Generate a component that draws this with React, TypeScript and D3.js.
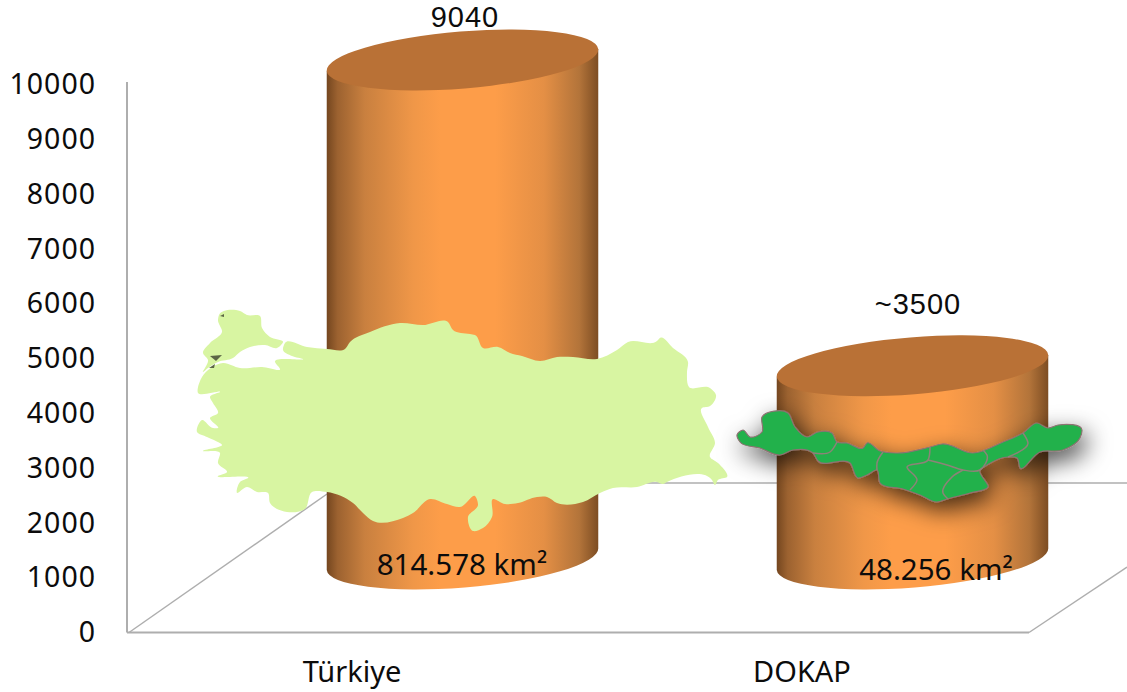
import React from "react";
import * as d3 from "d3";

const categories = ["Türkiye", "DOKAP"];
const values = [9040, 3500];
const valueLabels = ["9040", "~3500"];
const areaLabels = ["814.578 km²", "48.256 km²"];
const yTicks = [0, 1000, 2000, 3000, 4000, 5000, 6000, 7000, 8000, 9000, 10000];

type P = [number, number];
const turkeyAnatolia: P[] = [[285,343],[307,347],[327,349],[345,349],[350,342],[370,332],[400,323],[423,325],[448,322],[453,330],[470,334],[475,335],[483,348],[498,347],[510,353],[522,356],[540,361],[557,357],[573,357],[597,359],[617,350],[628,342],[657,341],[660,338],[673,348],[688,362],[687,372],[689,387],[710,388],[716,395],[710,406],[702,408],[708,427],[715,443],[710,457],[718,463],[727,477],[718,480],[715,485],[712,480],[667,482],[663,484],[657,482],[637,487],[613,488],[600,493],[583,502],[557,503],[547,497],[537,497],[518,503],[505,504],[493,499],[492,517],[483,528],[473,531],[468,517],[478,505],[475,496],[460,507],[447,504],[430,499],[413,513],[403,518],[373,521],[363,513],[353,503],[327,492],[312,492],[305,509],[287,512],[270,503],[268,493],[257,492],[247,487],[237,493],[240,482],[248,478],[218,476],[227,472],[218,463],[220,453],[203,451],[222,445],[207,437],[197,432],[202,420],[213,428],[218,428],[210,418],[218,413],[213,403],[210,397],[220,392],[198,393],[202,377],[223,363],[240,368],[262,367],[280,369],[275,362],[303,359],[292,356],[283,350]];
const turkeyThrace: P[] = [[218,320],[219,315],[240,311],[247,315],[260,316],[262,328],[270,337],[283,342],[277,348],[265,345],[250,347],[240,352],[233,358],[218,362],[208,368],[203,372],[208,360],[203,353],[210,343],[222,332]];
const turkeySpots: P[][] = [[[210,356],[222,355],[216,361]],[[209,368],[215,364],[214,368]],[[220,316],[224,314],[224,317]]];
const dokapOutline: P[] = [[737,435],[743,430],[750,437],[762,432],[762,417],[788,413],[795,427],[807,437],[818,432],[832,433],[837,442],[847,443],[863,448],[867,443],[880,451],[897,453],[930,447],[942,444],[973,453],[1003,442],[1023,433],[1037,423],[1048,428],[1058,425],[1082,430],[1080,438],[1063,450],[1040,452],[1020,468],[1017,458],[1008,457],[987,465],[980,470],[988,487],[970,493],[947,499],[937,502],[920,495],[903,489],[880,483],[877,470],[867,475],[858,478],[850,463],[818,461],[813,453],[793,450],[780,455],[760,448],[740,442]];
const dokapBorders: P[][] = [
  [[837,442],[830,452],[813,453]],
  [[883,452],[877,463],[877,470]],
  [[930,447],[928,460],[907,467],[917,480],[910,490]],
  [[928,460],[947,465],[963,470],[980,470],[987,455],[983,450]],
  [[963,470],[952,477],[943,493],[948,499]],
  [[1023,433],[1028,443],[1008,457]],
];

const W = 1127, H = 692;
const y = d3.scaleLinear().domain([0, 10000]).range([632, 84]);
const cylY = d3.scaleLinear().domain([0, 10000]).range([559, 7]);
const x = d3.scalePoint<string>().domain(categories).range([352, 802]);
const DEPTH = 110.5, RX = 136.2, RY = 28.5, ROT = -4.6;
const FLOOR_Y = 632.5, BACK_Y = 483;
const dx = RX * Math.cos((ROT * Math.PI) / 180);
const dy = RX * Math.sin((ROT * Math.PI) / 180);

const closed = d3.line().curve(d3.curveCatmullRomClosed.alpha(1));
const open = d3.line().curve(d3.curveCatmullRom.alpha(1));
const FONT = "'Noto Sans', sans-serif";
const VALUE_FONT = "'Liberation Sans', sans-serif";

function cylinderBody(cx: number, top: number, base: number) {
  const p = d3.path();
  p.moveTo(cx - dx, top - dy);
  p.lineTo(cx - dx, base - dy);
  return `${p.toString()}A${RX},${RY} ${ROT} 0 0 ${cx + dx},${base + dy}L${cx + dx},${top + dy}Z`;
}

export default function App() {
  return (
    <svg width={W} height={H} viewBox={`0 0 ${W} ${H}`} style={{ position: "absolute", left: 0, top: 0, display: "block", background: "#fff" }}>
      <defs>
        <linearGradient id="cyl" x1="0" x2="1" y1="0" y2="0">
          <stop offset="0" stopColor="#74461f" />
          <stop offset="0.04" stopColor="#9c6230" />
          <stop offset="0.14" stopColor="#c9803f" />
          <stop offset="0.32" stopColor="#f09748" />
          <stop offset="0.42" stopColor="#fd9d49" />
          <stop offset="0.62" stopColor="#fd9d49" />
          <stop offset="0.8" stopColor="#e48f45" />
          <stop offset="0.93" stopColor="#b3743a" />
          <stop offset="1" stopColor="#7d4d23" />
        </linearGradient>
        <filter id="mapShadow" x="-15%" y="-80%" width="130%" height="280%">
          <feDropShadow dx="5" dy="9" stdDeviation="12" floodColor="#000" floodOpacity="0.72" />
        </filter>
      </defs>

      <g fill="none" stroke="#aeaeae" strokeWidth={1.5}>
        <line x1={127} y1={82} x2={127} y2={FLOOR_Y} strokeWidth={2} />
        <line x1={127} y1={FLOOR_Y} x2={1029} y2={FLOOR_Y} strokeWidth={2} />
        <line x1={129} y1={FLOOR_Y} x2={327} y2={494} />
        <line x1={1029} y1={FLOOR_Y} x2={1127} y2={567} />
        <line x1={327} y1={BACK_Y} x2={1127} y2={BACK_Y} />
      </g>

      {categories.map((c, i) => {
        const cx = (x(c) as number) + DEPTH;
        const top = cylY(values[i]);
        const base = cylY(0);
        return (
          <g key={c}>
            <path d={cylinderBody(cx, top, base)} fill="url(#cyl)" />
            <ellipse cx={cx} cy={top} rx={RX} ry={RY} transform={`rotate(${ROT} ${cx} ${top})`} fill="#b97136" />
          </g>
        );
      })}

      <g fontFamily={FONT} fill="#0c0c0c">
        {yTicks.map((t) => (
          <text key={t} x={96} y={y(t)} dy="0.36em" textAnchor="end" fontSize={28.5} letterSpacing={1}>{t}</text>
        ))}
        {categories.map((c) => (
          <text key={c} x={x(c)} y={682} textAnchor="middle" fontSize={29}>{c}</text>
        ))}
      </g>

      <path d={closed(turkeyThrace) as string} fill="#d8f5a2" />
      <path d={closed(turkeyAnatolia) as string} fill="#d8f5a2" />
      {turkeySpots.map((s, i) => (
        <path key={i} d={d3.line()(s) + "Z"} fill="#5c6645" />
      ))}

      <path d={closed(dokapOutline) as string} fill="#22b14c" stroke="#8d7373" strokeWidth={1.2} filter="url(#mapShadow)" />
      <g fill="none" stroke="#8d8378" strokeWidth={1.5}>
        {dokapBorders.map((b, i) => (
          <path key={i} d={open(b) as string} />
        ))}
      </g>

      <g fontFamily={VALUE_FONT} fill="#0c0c0c" textAnchor="middle">
        <text x={465} y={27} fontSize={29} letterSpacing={1}>{valueLabels[0]}</text>
        <text x={918} y={314} fontSize={29} letterSpacing={1}>{valueLabels[1]}</text>
      </g>
      <g fontFamily={FONT} fill="#0c0c0c" textAnchor="middle">
        <text x={462} y={575} fontSize={29.5}>{areaLabels[0]}</text>
        <text x={936} y={580} fontSize={29.5}>{areaLabels[1]}</text>
      </g>
    </svg>
  );
}
